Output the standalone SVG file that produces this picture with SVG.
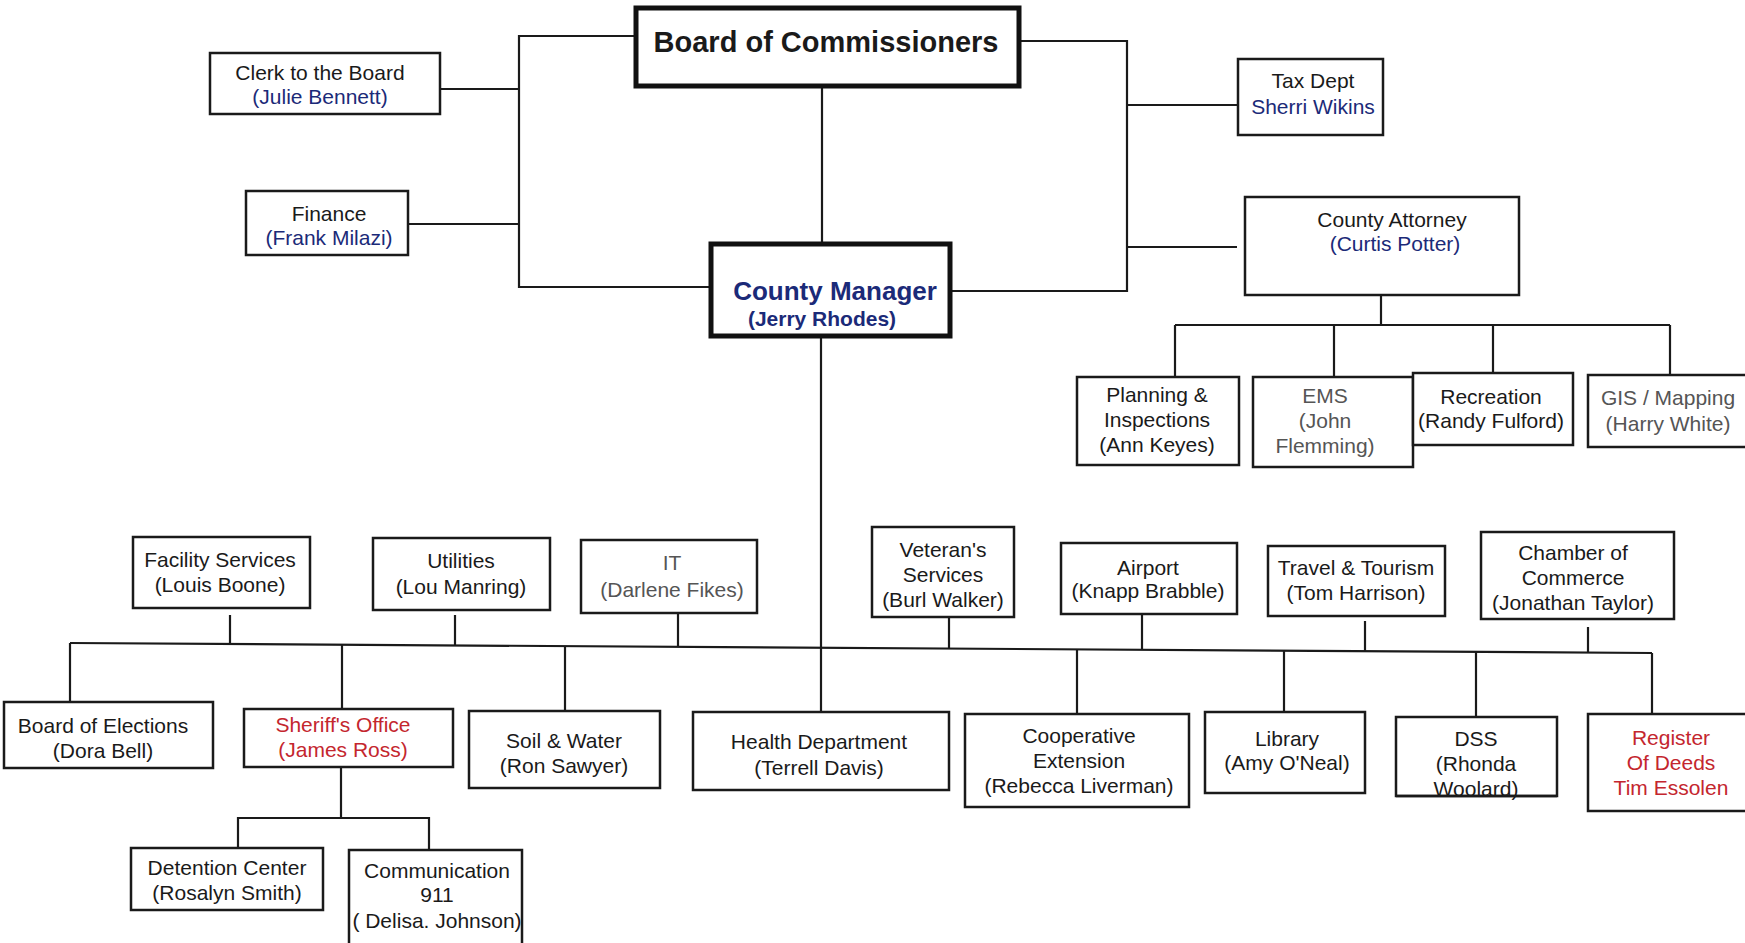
<svg xmlns="http://www.w3.org/2000/svg" width="1745" height="943" viewBox="0 0 1745 943">
<style>
  text{font-family:"Liberation Sans",Arial,sans-serif;font-size:21px;fill:#1a1a1a;text-anchor:middle}
  .box{fill:#fff;stroke:#1a1a1a;stroke-width:2.5}
  .thick{fill:#fff;stroke:#111;stroke-width:5}
  .navy{fill:#1b2a78}
  .red{fill:#c4262e}
  .grey{fill:#555}
  .bold{font-weight:bold}
  #connectors line,#connectors polyline{stroke:#1a1a1a;stroke-width:2.2;fill:none}
</style>
<rect width="1745" height="943" fill="#fff"/>
<g id="connectors">
  <polyline points="634,36 519,36 519,287 709,287"/>
  <line x1="440" y1="89" x2="519" y2="89"/>
  <line x1="408" y1="224" x2="519" y2="224"/>
  <polyline points="1021,41 1127,41 1127,291 952,291"/>
  <line x1="1127" y1="105" x2="1238" y2="105"/>
  <line x1="1127" y1="247" x2="1237" y2="247"/>
  <line x1="822" y1="88" x2="822" y2="242"/>
  <line x1="821" y1="338" x2="821" y2="712"/>
  <line x1="1381" y1="295" x2="1381" y2="325"/>
  <line x1="1175" y1="325" x2="1670" y2="325"/>
  <line x1="1175" y1="325" x2="1175" y2="377"/>
  <line x1="1334" y1="325" x2="1334" y2="377"/>
  <line x1="1493" y1="325" x2="1493" y2="373"/>
  <line x1="1670" y1="325" x2="1670" y2="375"/>
  <line x1="70" y1="643" x2="1652" y2="653"/>
  <line x1="70" y1="643" x2="70" y2="702"/>
  <line x1="1652" y1="653" x2="1652" y2="714"/>
  <line x1="230" y1="615" x2="230" y2="644"/>
  <line x1="455" y1="615" x2="455" y2="645"/>
  <line x1="678" y1="613" x2="678" y2="647"/>
  <line x1="949" y1="617" x2="949" y2="649"/>
  <line x1="1142" y1="607" x2="1142" y2="650"/>
  <line x1="1365" y1="621" x2="1365" y2="651"/>
  <line x1="1588" y1="627" x2="1588" y2="653"/>
  <line x1="342" y1="645" x2="342" y2="709"/>
  <line x1="565" y1="646" x2="565" y2="711"/>
  <line x1="1077" y1="650" x2="1077" y2="714"/>
  <line x1="1284" y1="651" x2="1284" y2="712"/>
  <line x1="1476" y1="652" x2="1476" y2="717"/>
  <line x1="341" y1="767" x2="341" y2="818"/>
  <polyline points="238,848 238,818 429,818 429,850"/>
</g>
<g id="board">
  <rect class="thick" x="636" y="8" width="383" height="78"/>
  <text class="bold" x="826" y="52" style="font-size:29px">Board of Commissioners</text>
</g>
<g id="clerk">
  <rect class="box" x="210" y="53" width="230" height="61"/>
  <text x="320" y="80">Clerk to the Board</text>
  <text class="navy" x="320" y="104">(Julie Bennett)</text>
</g>
<g id="finance">
  <rect class="box" x="246" y="191" width="162" height="64"/>
  <text x="329" y="221">Finance</text>
  <text class="navy" x="329" y="245">(Frank Milazi)</text>
</g>
<g id="manager">
  <rect class="thick" x="711" y="244" width="239" height="92"/>
  <text class="navy bold" x="835" y="300" style="font-size:26px">County Manager</text>
  <text class="navy bold" x="822" y="326">(Jerry Rhodes)</text>
</g>
<g id="tax">
  <rect class="box" x="1238" y="59" width="145" height="76"/>
  <text x="1313" y="88">Tax Dept</text>
  <text class="navy" x="1313" y="114">Sherri Wikins</text>
</g>
<g id="attorney">
  <rect class="box" x="1245" y="197" width="274" height="98"/>
  <text x="1392" y="227">County Attorney</text>
  <text class="navy" x="1395" y="251">(Curtis Potter)</text>
</g>
<g id="planning">
  <rect class="box" x="1077" y="377" width="162" height="88"/>
  <text x="1157" y="402">Planning &amp;</text>
  <text x="1157" y="427">Inspections</text>
  <text x="1157" y="452">(Ann Keyes)</text>
</g>
<g id="ems">
  <rect class="box" x="1253" y="377" width="160" height="90"/>
  <text class="grey" x="1325" y="403">EMS</text>
  <text class="grey" x="1325" y="428">(John</text>
  <text class="grey" x="1325" y="453">Flemming)</text>
</g>
<g id="recreation">
  <rect class="box" x="1413" y="373" width="160" height="72"/>
  <text x="1491" y="404">Recreation</text>
  <text x="1491" y="428">(Randy Fulford)</text>
</g>
<g id="gis">
  <rect class="box" x="1588" y="375" width="170" height="72"/>
  <text class="grey" x="1668" y="405">GIS / Mapping</text>
  <text class="grey" x="1668" y="431">(Harry White)</text>
</g>
<g id="facility">
  <rect class="box" x="133" y="537" width="177" height="71"/>
  <text x="220" y="567">Facility Services</text>
  <text x="220" y="592">(Louis Boone)</text>
</g>
<g id="utilities">
  <rect class="box" x="373" y="538" width="177" height="72"/>
  <text x="461" y="568">Utilities</text>
  <text x="461" y="594">(Lou Manring)</text>
</g>
<g id="it">
  <rect class="box" x="581" y="540" width="176" height="73"/>
  <text class="grey" x="672" y="570">IT</text>
  <text class="grey" x="672" y="597">(Darlene Fikes)</text>
</g>
<g id="veterans">
  <rect class="box" x="872" y="527" width="142" height="90"/>
  <text x="943" y="557">Veteran's</text>
  <text x="943" y="582">Services</text>
  <text x="943" y="607">(Burl Walker)</text>
</g>
<g id="airport">
  <rect class="box" x="1061" y="543" width="176" height="71"/>
  <text x="1148" y="575">Airport</text>
  <text x="1148" y="598">(Knapp Brabble)</text>
</g>
<g id="travel">
  <rect class="box" x="1268" y="546" width="177" height="70"/>
  <text x="1356" y="575">Travel &amp; Tourism</text>
  <text x="1356" y="600">(Tom Harrison)</text>
</g>
<g id="chamber">
  <rect class="box" x="1481" y="532" width="193" height="87"/>
  <text x="1573" y="560">Chamber of</text>
  <text x="1573" y="585">Commerce</text>
  <text x="1573" y="610">(Jonathan Taylor)</text>
</g>
<g id="elections">
  <rect class="box" x="4" y="702" width="209" height="66"/>
  <text x="103" y="733">Board of Elections</text>
  <text x="103" y="758">(Dora Bell)</text>
</g>
<g id="sheriff">
  <rect class="box" x="244" y="709" width="209" height="58"/>
  <text class="red" x="343" y="732">Sheriff's Office</text>
  <text class="red" x="343" y="757">(James Ross)</text>
</g>
<g id="soil">
  <rect class="box" x="469" y="711" width="191" height="77"/>
  <text x="564" y="748">Soil &amp; Water</text>
  <text x="564" y="773">(Ron Sawyer)</text>
</g>
<g id="health">
  <rect class="box" x="693" y="712" width="256" height="78"/>
  <text x="819" y="749">Health Department</text>
  <text x="819" y="775">(Terrell Davis)</text>
</g>
<g id="cooperative">
  <rect class="box" x="965" y="714" width="224" height="93"/>
  <text x="1079" y="743">Cooperative</text>
  <text x="1079" y="768">Extension</text>
  <text x="1079" y="793">(Rebecca Liverman)</text>
</g>
<g id="library">
  <rect class="box" x="1205" y="712" width="160" height="81"/>
  <text x="1287" y="746">Library</text>
  <text x="1287" y="770">(Amy O'Neal)</text>
</g>
<g id="dss">
  <rect class="box" x="1396" y="717" width="161" height="79"/>
  <text x="1476" y="746">DSS</text>
  <text x="1476" y="771">(Rhonda</text>
  <text x="1476" y="796">Woolard)</text>
  <line x1="1396" y1="796" x2="1557" y2="796" stroke="#1a1a1a" stroke-width="2.5"/>
</g>
<g id="register">
  <rect class="box" x="1588" y="714" width="170" height="97"/>
  <text class="red" x="1671" y="745">Register</text>
  <text class="red" x="1671" y="770">Of Deeds</text>
  <text class="red" x="1671" y="795">Tim Essolen</text>
</g>
<g id="detention">
  <rect class="box" x="131" y="848" width="192" height="62"/>
  <text x="227" y="875">Detention Center</text>
  <text x="227" y="900">(Rosalyn Smith)</text>
</g>
<g id="communication">
  <rect class="box" x="349" y="850" width="173" height="100"/>
  <text x="437" y="878">Communication</text>
  <text x="437" y="902">911</text>
  <text x="437" y="928">( Delisa. Johnson)</text>
</g>
</svg>
